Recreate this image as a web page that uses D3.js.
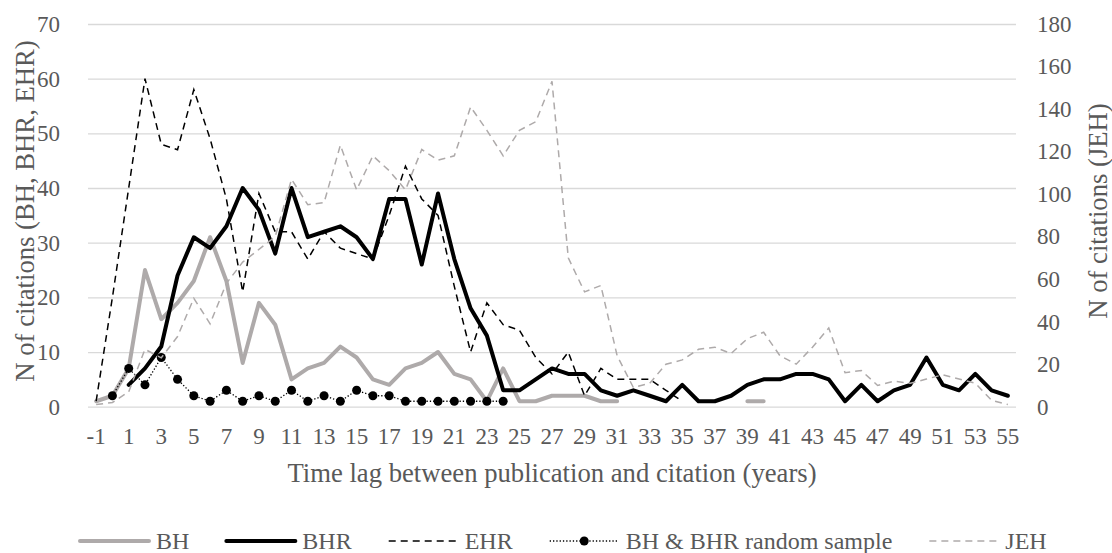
<!DOCTYPE html>
<html>
<head>
<meta charset="utf-8">
<script src="https://cdn.jsdelivr.net/npm/d3@7"></script>
<style>
  body { margin: 0; background: #fff; }
  text { font-family: "Liberation Serif", "Times New Roman", serif; fill: #595959; }
</style>
</head>
<body>
<div id="chart"></div>
<script>
// time lag categories (years)
const years = [-1, 0, 1, 2, 3, 4, 5, 6, 7, 8, 9, 10, 11, 12, 13, 14, 15, 16, 17, 18, 19,
  20, 21, 22, 23, 24, 25, 26, 27, 28, 29, 30, 31, 32, 33, 34, 35, 36, 37, 38, 39,
  40, 41, 42, 43, 44, 45, 46, 47, 48, 49, 50, 51, 52, 53, 54, 55];
const xTickLabels = [-1, 1, 3, 5, 7, 9, 11, 13, 15, 17, 19, 21, 23, 25, 27, 29, 31, 33, 35,
  37, 39, 41, 43, 45, 47, 49, 51, 53, 55];
const leftTicks = [0, 10, 20, 30, 40, 50, 60, 70];
const rightTicks = [0, 20, 40, 60, 80, 100, 120, 140, 160, 180];

// series, one value per year (null = no point)
const bh = [1, 2, 7, 25, 16, 19, 23, 31, 23, 8, 19, 15, 5, 7, 8, 11, 9, 5, 4, 7, 8,
  10, 6, 5, 1, 7, 1, 1, 2, 2, 2, 1, 1, null, null, null, null, null, null, null, 1,
  1, null, null, null, null, null, null, null, null, null, null, null, null, null, null, null];
const bhr = [null, null, 4, 7, 11, 24, 31, 29, 33, 40, 36, 28, 40, 31, 32, 33, 31, 27, 38, 38, 26,
  39, 27, 18, 13, 3, 3, 5, 7, 6, 6, 3, 2, 3, 2, 1, 4, 1, 1, 2, 4,
  5, 5, 6, 6, 5, 1, 4, 1, 3, 4, 9, 4, 3, 6, 3, 2];
const ehr = [1, 20, 40, 60, 48, 47, 58, 49, 38, 21, 39, 32, 32, 27, 32, 29, 28, 27, 35, 44, 38,
  35, 22, 10, 19, 15, 14, 9, 6, 10, 2, 7, 5, 5, 5, 3, 1, null, null, null, null,
  null, null, null, null, null, null, null, null, null, null, null, null, null, null, null, null];
const sample = [null, 2, 7, 4, 9, 5, 2, 1, 3, 1, 2, 1, 3, 1, 2, 1, 3, 2, 2, 1, 1,
  1, 1, 1, 1, 1, null, null, null, null, null, null, null, null, null, null, null, null, null, null, null,
  null, null, null, null, null, null, null, null, null, null, null, null, null, null, null, null];
const jeh = [1, 2, 7, 27, 23, 33, 51, 39, 58, 68, 74, 80, 107, 95, 96, 123, 102, 118, 111, 102, 121,
  116, 118, 141, 130, 118, 130, 134, 153, 70, 54, 57, 24, 9, 11, 20, 22, 27, 28, 25, 32,
  35, 24, 20, 28, 37, 16, 17, 10, 12, 11, 13, 15, 13, 11, 3, 1];

const series = [
  { name: "BH", values: bh, axis: "left", color: "#aeaaaa", width: 4, dash: null, dots: false },
  { name: "BHR", values: bhr, axis: "left", color: "#000", width: 4, dash: null, dots: false },
  { name: "EHR", values: ehr, axis: "left", color: "#000", width: 1.5, dash: "7,5", dots: false },
  { name: "BH & BHR random sample", values: sample, axis: "left", color: "#000", width: 1.3, dash: "1.3,2", dots: true },
  { name: "JEH", values: jeh, axis: "right", color: "#aeaaaa", width: 1.5, dash: "7,5", dots: false }
];

const W = 1112, H = 553;
const plotL = 88, plotR = 1016, plotT = 24, plotB = 406.7;
const serif = '"Liberation Serif", "Times New Roman", serif';

const svg = d3.select("#chart").append("svg")
  .attr("width", W)
  .attr("height", H)
  .style("font-family", serif);

const x = d3.scaleBand().domain(years).range([plotL, plotR]).padding(0);
const xc = d => x(d) + x.bandwidth() / 2;
const yL = d3.scaleLinear().domain([0, 70]).range([plotB, plotT]);
const yR = d3.scaleLinear().domain([0, 180]).range([plotB, plotT]);

// left axis with gridlines
const gLeft = svg.append("g")
  .attr("transform", `translate(${plotL},0)`)
  .call(d3.axisLeft(yL).tickValues(leftTicks).tickSizeInner(-(plotR - plotL)).tickSizeOuter(0).tickPadding(28));
gLeft.select(".domain").remove();
gLeft.selectAll("line").attr("stroke", "#d9d9d9").attr("stroke-width", 1.3);

// right axis
const gRight = svg.append("g")
  .attr("transform", `translate(${plotR},0)`)
  .call(d3.axisRight(yR).tickValues(rightTicks).tickSize(0).tickPadding(21));
gRight.select(".domain").remove();

// bottom axis
const gBottom = svg.append("g")
  .attr("transform", `translate(0,${plotB})`)
  .call(d3.axisBottom(x).tickValues(xTickLabels).tickSize(0).tickPadding(21));
gBottom.select(".domain").remove();

[gLeft, gRight, gBottom].forEach(g => {
  g.attr("font-family", serif);
  g.selectAll("text").attr("font-size", 23).attr("fill", "#595959");
});

// axis titles
svg.append("text")
  .attr("x", 552).attr("y", 482)
  .attr("text-anchor", "middle")
  .attr("font-size", 26.67)
  .text("Time lag between publication and citation (years)");

svg.append("text")
  .attr("transform", "translate(25,211) rotate(-90)")
  .attr("text-anchor", "middle")
  .attr("dominant-baseline", "central")
  .attr("font-size", 26.67)
  .text("N of citations (BH, BHR, EHR)");

svg.append("text")
  .attr("transform", "translate(1098,211) rotate(-90)")
  .attr("text-anchor", "middle")
  .attr("dominant-baseline", "central")
  .attr("font-size", 26.67)
  .text("N of citations (JEH)");

// lines
series.forEach(s => {
  const yScale = s.axis === "left" ? yL : yR;
  const pts = years.map((yr, i) => ({ yr, v: s.values[i] }));
  const line = d3.line()
    .defined(d => d.v != null)
    .x(d => xc(d.yr))
    .y(d => yScale(d.v));

  svg.append("path")
    .datum(pts)
    .attr("fill", "none")
    .attr("stroke", s.color)
    .attr("stroke-width", s.width)
    .attr("stroke-linejoin", s.dash ? "miter" : "round")
    .attr("stroke-linecap", s.dash ? "butt" : "round")
    .attr("stroke-dasharray", s.dash)
    .attr("d", line);

  if (s.dots) {
    svg.append("g").selectAll("circle")
      .data(pts.filter(d => d.v != null))
      .enter().append("circle")
      .attr("cx", d => xc(d.yr))
      .attr("cy", d => yScale(d.v))
      .attr("r", 4.5)
      .attr("fill", "#000");
  }
});

// legend
const legendY = 541;
const symW = 69;
const legend = svg.append("g");
let lx = 80;
series.forEach(s => {
  const item = legend.append("g").attr("transform", `translate(${lx},${legendY})`);
  item.append("line")
    .attr("x1", 0).attr("x2", symW)
    .attr("stroke", s.color)
    .attr("stroke-width", s.width)
    .attr("stroke-linecap", s.dash ? "butt" : "round")
    .attr("stroke-dasharray", s.dash);
  if (s.dots) {
    item.append("circle").attr("cx", symW / 2).attr("r", 4.5).attr("fill", "#000");
  }
  const t = item.append("text")
    .attr("x", symW + 7)
    .attr("y", 7.5)
    .attr("font-size", 24)
    .text(s.name);
  lx += symW + 7 + t.node().getComputedTextLength() + 37;
});
</script>
</body>
</html>
